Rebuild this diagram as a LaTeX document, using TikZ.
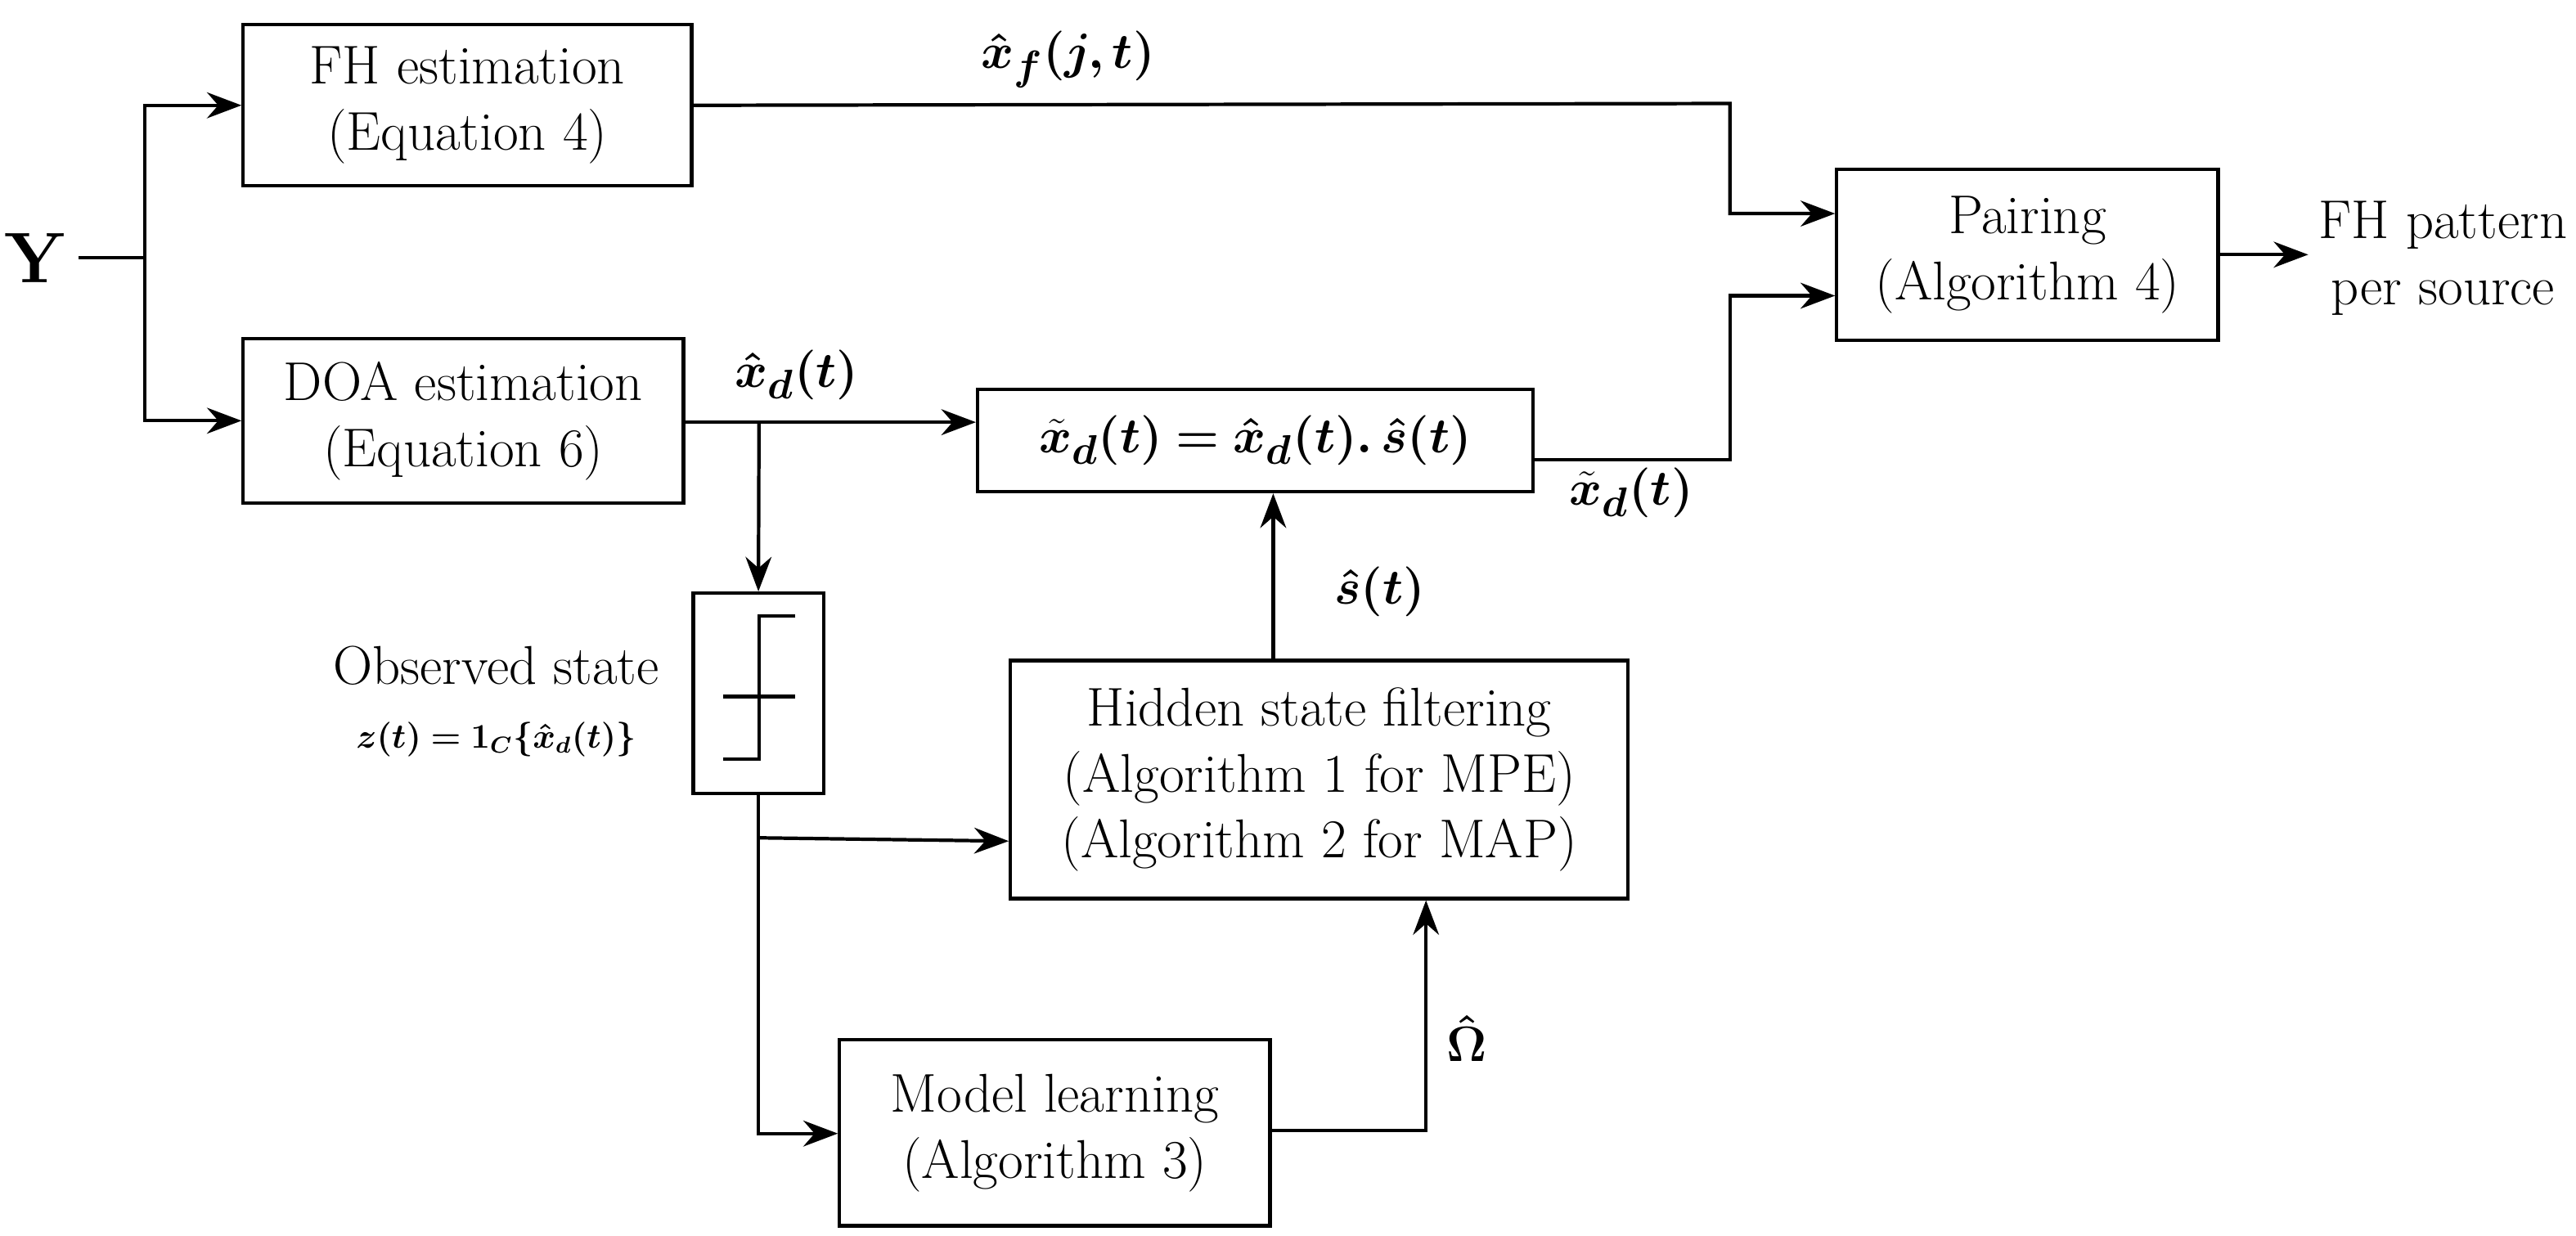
\documentclass[tikz,border=0pt]{standalone}
\usepackage{amsmath,bm}
\usetikzlibrary{arrows.meta}
\begin{document}
\begin{tikzpicture}[x=0.02008cm,y=-0.02008cm,line width=1.2pt,
  font=\fontsize{19}{23}\selectfont,
  box/.style={draw,line width=1.2pt,inner sep=0pt,align=center},
  arr/.style={-{Stealth[length=12pt,width=9pt]}}]
\useasboundingbox (0,0) rectangle (1568,752);
\node[box,anchor=north west,minimum width=5.48cm,minimum height=1.97cm] (fh) at (147,14) {FH estimation\\(Equation 4)};
\node[box,anchor=north west,minimum width=5.38cm,minimum height=2.01cm] (doa) at (147,205) {DOA estimation\\(Equation 6)};
\node[box,anchor=north west,minimum width=6.79cm,minimum height=1.25cm] (prod) at (594,236) {$\tilde{\bm{x}}_{\bm d}\bm{(t)=\hat{x}_d(t).\,\hat{s}(t)}$};
\node[box,anchor=north west,minimum width=4.66cm,minimum height=2.09cm] (pair) at (1117,102) {Pairing\\(Algorithm 4)};
\node[box,anchor=north west,minimum width=1.59cm,minimum height=2.45cm] (step) at (421,360) {};
\node[box,anchor=north west,minimum width=7.55cm,minimum height=2.91cm] (hid) at (614,401) {Hidden state filtering\\(Algorithm 1 for MPE)\\(Algorithm 2 for MAP)};
\node[box,anchor=north west,minimum width=5.26cm,minimum height=2.27cm] (mod) at (510,632) {Model learning\\(Algorithm 3)};
\node[font=\fontsize{24}{26}\selectfont] (Y) at (22,157) {$\mathbf{Y}$};
\node[align=center] (out) at (1487,157) {FH pattern\\per source};
\node (obs) at (302,405) {Observed state};
\node[font=\fontsize{12}{14}\selectfont] (z) at (302,450) {$\bm{z(t)=1_C\{\hat{x}_d(t)\}}$};
% step symbol
\draw (484,375) -- (462,375) -- (462,462) -- (440,462);
\draw (440,424) -- (484,424);
% connectors
\coordinate (b) at (88,157);
\draw (Y.east) -- (b);
\draw[arr] (b) |- (fh.west);
\draw[arr] (b) |- (doa.west);
\coordinate (c1) at (1053,63);
\draw[arr] (fh.east) -- (c1) |- (pair.west |- 0,130);
\draw[arr] (prod.east |- 0,280) -- (1053,280) |- (pair.west |- 0,180);
\draw[arr] (doa.east |- 0,257) -- (prod.west |- 0,257);
\draw[arr] (462,257) -- (step.north);
\draw[arr] (step.south) |- (mod.west |- 0,690);
\draw[arr] (462,510) -- (hid.west |- 0,512);
\draw[arr] (hid.north -| 775,0) -- (prod.south -| 775,0);
\draw[arr] (mod.east |- 0,688) -- (868,688) -- (hid.south -| 868,0);
\draw[arr] (pair.east |- 0,155) -- (1405,155);
% labels
\node at (650,36) {$\bm{\hat{x}_f(j,t)}$};
\node at (485,228) {$\bm{\hat{x}_d(t)}$};
\node at (993,300) {$\tilde{\bm{x}}_{\bm d}\bm{(t)}$};
\node at (840,360) {$\bm{\hat{s}(t)}$};
\node at (893,632) {$\bm{\hat{\Omega}}$};
\end{tikzpicture}
\end{document}
